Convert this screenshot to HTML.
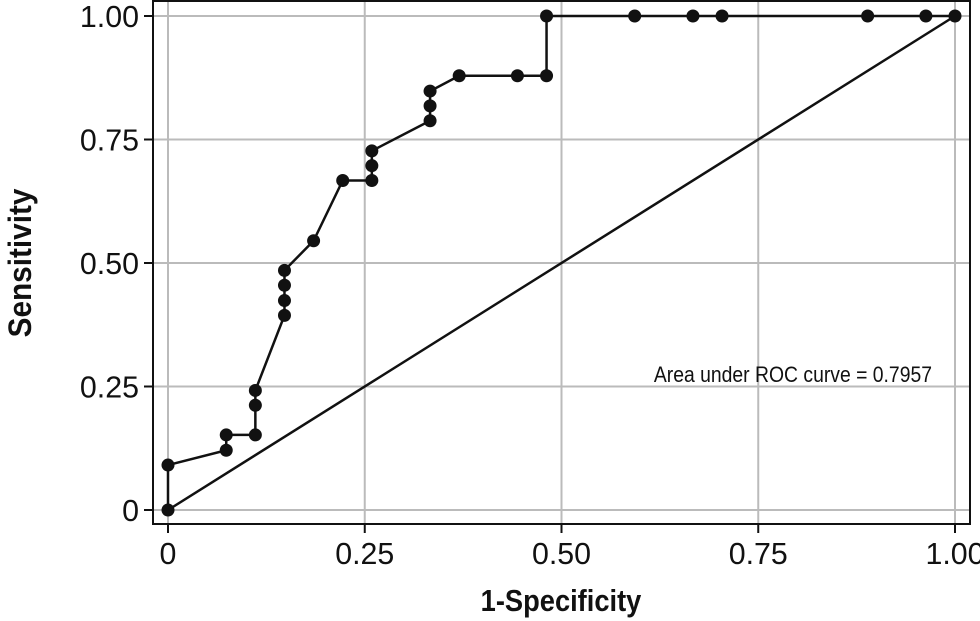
<!DOCTYPE html>
<html><head><meta charset="utf-8"><style>
html,body{margin:0;padding:0;background:#fff;}
svg{display:block;font-family:"Liberation Sans",sans-serif;}
</style></head><body>
<svg id="chart" width="980" height="621" viewBox="0 0 980 621">
<g id="grid"></g>
<rect x="153" y="1" width="817" height="523" fill="none" stroke="#111" stroke-width="2"/>
<g id="axes"></g>
<g id="series"></g>
<text transform="translate(932,382) scale(0.88,1)" font-size="22" text-anchor="end" fill="#111">Area under ROC curve = 0.7957</text>
<text transform="translate(561,611) scale(0.88,1)" font-size="31" font-weight="bold" text-anchor="middle" fill="#111">1-Specificity</text>
<text transform="translate(31,263) rotate(-90) scale(0.93,1)" font-size="32" font-weight="bold" text-anchor="middle" fill="#111">Sensitivity</text>
</svg>
<script>
const specX = [0,0,0.074,0.074,0.111,0.111,0.111,0.148,0.148,0.148,0.148,0.185,0.222,0.259,0.259,0.259,0.333,0.333,0.333,0.370,0.444,0.481,0.481,0.593,0.667,0.704,0.889,0.963,1];
const sensY = [0,0.091,0.121,0.152,0.152,0.212,0.242,0.394,0.424,0.455,0.485,0.545,0.667,0.667,0.697,0.727,0.788,0.818,0.848,0.879,0.879,0.879,1,1,1,1,1,1,1];
const tickVals = [0,0.25,0.5,0.75,1];
const tickLabels = ["0","0.25","0.50","0.75","1.00"];
const NS="http://www.w3.org/2000/svg";
function sx(v){return 168+v*787;}
function sy(v){return 510-v*494;}
function mk(tag,attrs,parent){const e=document.createElementNS(NS,tag);for(const k in attrs)e.setAttribute(k,attrs[k]);parent.appendChild(e);return e;}
const grid=document.getElementById('grid'),axes=document.getElementById('axes'),series=document.getElementById('series');
tickVals.forEach((v,i)=>{
  let g=mk('line',{x1:sx(v),x2:sx(v),y1:1,y2:524,stroke:'#bbb','stroke-width':2},grid);
  
  
  g=mk('line',{x1:153,x2:970,y1:sy(v),y2:sy(v),stroke:'#bbb','stroke-width':2},grid);
  
  
  let t=mk('line',{x1:sx(v),x2:sx(v),y1:524,y2:533,stroke:'#111','stroke-width':2},axes);
  
  
  t=mk('line',{x1:144,x2:153,y1:sy(v),y2:sy(v),stroke:'#111','stroke-width':2},axes);
  
  
  let l=mk('text',{transform:'translate('+sx(v)+',564) scale(0.98,1)','font-size':31,'text-anchor':'middle',fill:'#111'},axes);
  l.textContent=tickLabels[i];
  
  
  l=mk('text',{transform:'translate(139,'+(sy(v)+11)+') scale(0.98,1)','font-size':31,'text-anchor':'end',fill:'#111'},axes);
  l.textContent=tickLabels[i];
  
  
});
let d=mk('line',{x1:sx(0),y1:sy(0),x2:sx(1),y2:sy(1),stroke:'#111','stroke-width':2.5},series);


let p=mk('polyline',{points:specX.map((x,i)=>sx(x)+','+sy(sensY[i])).join(' '),fill:'none',stroke:'#111','stroke-width':2.5},series);


specX.forEach((x,i)=>{
  const c=mk('circle',{cx:sx(x),cy:sy(sensY[i]),r:6.5,fill:'#111'},series);
  
  
});
</script>
</body></html>
